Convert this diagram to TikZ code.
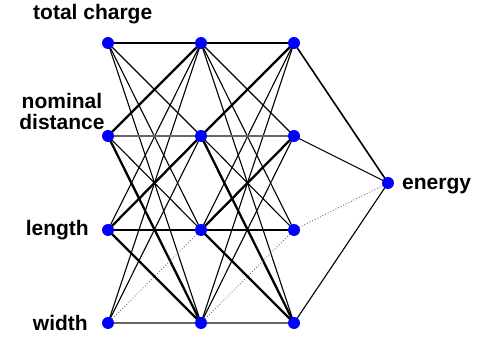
\documentclass[tikz,border=0pt]{standalone}
\usepackage{fontspec}
\setmainfont{Liberation Sans}
\begin{document}
\begin{tikzpicture}[x=1pt,y=-1pt,
  neuron/.style={circle,fill=blue,inner sep=0pt,minimum size=12pt},
  lbl/.style={font=\bfseries\fontsize{21}{21}\selectfont,inner sep=0pt,align=center},
  wthick/.style={line width=2.3pt,black},
  wnorm/.style={line width=1.1pt,black},
  wgray/.style={line width=1.1pt,black!60},
  wgraythick/.style={line width=2.5pt,black!60},
  wdot/.style={line width=0.9pt,black!55,dotted},
  wmid/.style={line width=1.6pt,black}]
\useasboundingbox (0,0) rectangle (483,342);
\foreach \c/\x in {A/108,B/201,C/294}{
  \foreach \r/\y in {1/43,2/136,3/230,4/323}{
    \coordinate (\c\r) at (\x,\y);
  }
}
\coordinate (O) at (388,183);
% layer connections (same pattern for A->B and B->C)
\foreach \p/\q in {A/B,B/C}{
  \draw[wthick] (\p1) -- (\q1);
  \draw[wthick] (\p2) -- (\q1);
  \draw[wthick] (\p2) -- (\q4);
  \draw[wthick] (\p3) -- (\q2);
  \draw[wthick] (\p3) -- (\q4);
  \draw[wnorm] (\p1) -- (\q2);
  \draw[wnorm] (\p1) -- (\q3);
  \draw[wnorm] (\p1) -- (\q4);
  \draw[wnorm] (\p2) -- (\q3);
  \draw[wnorm] (\p3) -- (\q1);
  \draw[wnorm] (\p3) -- (\q3);
  \draw[wnorm] (\p4) -- (\q1);
  \draw[wnorm] (\p4) -- (\q2);
  \draw[wgray] (\p2) -- (\q2);
  \draw[wdot] (\p4) -- (\q3);
  \draw[wgraythick] (\p4) -- (\q4);
}
\draw[wmid] (C1) -- (O);
\draw[wnorm] (C2) -- (O);
\draw[wdot] (C3) -- (O);
\draw[wnorm] (C4) -- (O);
\foreach \n in {A1,A2,A3,A4,B1,B2,B3,B4,C1,C2,C3,C4,O}{
  \node[neuron] (n\n) at (\n) {};
}
\node[lbl,anchor=west] (t1) at (33,14) {total charge};
\node[lbl] (t2) at (62,111) {nominal\\distance};
\node[lbl,anchor=east] (t3) at (89,230) {length};
\node[lbl,anchor=east] (t4) at (88,323) {width};
\node[lbl,anchor=west] (t5) at (402,186) {energy};
\end{tikzpicture}
\end{document}
